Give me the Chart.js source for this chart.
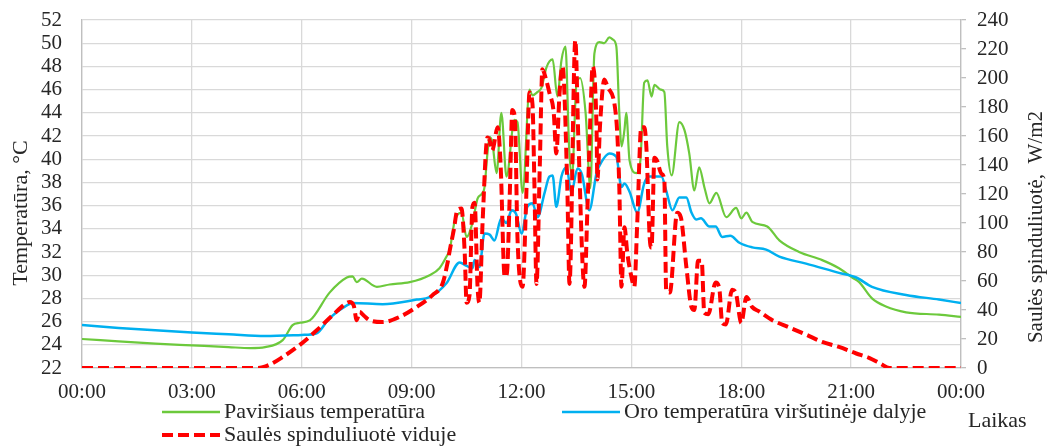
<!DOCTYPE html>
<html>
<head>
<meta charset="utf-8">
<script src="https://cdn.jsdelivr.net/npm/chart.js@4.4.1/dist/chart.umd.min.js"></script>
<style>
    html, body { margin: 0; padding: 0; background: #ffffff; }
    canvas { display: block; }
</style>
</head>
<body>
<canvas id="plot" width="1047" height="448"></canvas>
<script>
// time in hours from midnight
const timeTicks = ['00:00', '03:00', '06:00', '09:00', '12:00', '15:00', '18:00', '21:00', '00:00'];

const surfaceTimes = [0, 1, 2, 3, 4, 4.6, 5.0, 5.48, 5.75, 5.95, 6.22, 6.76, 7.23, 7.39, 7.5, 7.64, 8.05, 8.4, 8.95, 9.49, 9.76, 9.95, 10.04, 10.17, 10.25, 10.36, 10.5, 10.66, 10.8, 10.91, 10.99, 11.07, 11.13, 11.2, 11.32, 11.45, 11.59, 11.81, 11.89, 12.03, 12.22, 12.3, 12.44, 12.55, 12.68, 12.85, 12.98, 13.09, 13.2, 13.3, 13.38, 13.5, 13.6, 13.75, 13.88, 13.99, 14.13, 14.26, 14.4, 14.5, 14.59, 14.67, 14.73, 14.81, 14.86, 14.95, 15.14, 15.25, 15.35, 15.44, 15.55, 15.63, 15.8, 15.9, 15.98, 16.1, 16.31, 16.45, 16.58, 16.72, 16.85, 17.0, 17.13, 17.32, 17.59, 17.86, 18.0, 18.14, 18.3, 18.71, 19.04, 19.58, 20.21, 20.67, 21.03, 21.22, 21.57, 21.95, 22.5, 23.4, 24];
const surfaceTemps = [24.5, 24.3, 24.1, 23.95, 23.8, 23.72, 23.8, 24.4, 25.7, 25.9, 26.1, 28.5, 29.8, 29.9, 29.4, 29.7, 29.0, 29.2, 29.4, 30.0, 30.6, 31.6, 32.2, 34.6, 35.2, 35.4, 33.3, 34.5, 36.6, 37.0, 37.6, 40.5, 41.9, 41.5, 38.8, 44.0, 38.5, 43.4, 43.2, 37.1, 46.0, 45.5, 45.8, 46.2, 47.9, 48.6, 45.4, 48.5, 49.7, 41.0, 38.5, 46.5, 47.0, 44.0, 37.5, 49.1, 50.1, 50.0, 50.5, 50.3, 49.7, 44.0, 41.1, 42.5, 44.0, 39.9, 38.8, 40.0, 46.6, 46.8, 45.4, 46.4, 46.0, 45.8, 41.1, 38.6, 43.2, 42.5, 40.5, 37.3, 39.3, 37.5, 36.2, 37.1, 35.0, 35.8, 34.9, 35.4, 34.6, 34.2, 33.0, 32.0, 31.3, 30.6, 29.8, 29.4, 28.0, 27.3, 26.8, 26.6, 26.4];

const airTimes = [0, 1, 2, 3, 4, 5, 6.0, 6.41, 6.76, 7.23, 7.39, 8.21, 9.14, 9.49, 9.95, 10.31, 10.5, 10.66, 10.72, 10.85, 10.99, 11.13, 11.26, 11.45, 11.59, 11.73, 11.85, 12.0, 12.16, 12.3, 12.44, 12.63, 12.76, 12.85, 12.95, 13.09, 13.23, 13.36, 13.53, 13.65, 13.85, 14.05, 14.21, 14.4, 14.59, 14.73, 14.81, 14.95, 15.16, 15.35, 15.49, 15.82, 15.95, 16.12, 16.31, 16.5, 16.64, 16.77, 16.9, 17.13, 17.3, 17.48, 17.7, 17.95, 18.3, 18.68, 19.04, 19.77, 20.67, 21.14, 21.57, 22.5, 23.4, 24];
const airTemps = [25.7, 25.45, 25.25, 25.05, 24.9, 24.75, 24.85, 25.0, 26.3, 27.4, 27.6, 27.5, 27.9, 28.1, 29.3, 31.1, 30.8, 30.6, 31.3, 30.7, 33.6, 33.5, 33.0, 34.9, 34.5, 35.6, 35.3, 33.6, 35.9, 36.2, 35.0, 37.1, 38.5, 38.6, 35.9, 38.5, 39.3, 37.1, 39.2, 38.7, 35.6, 38.8, 39.9, 40.5, 40.2, 37.6, 37.9, 37.2, 35.4, 37.9, 38.5, 38.5, 37.3, 35.6, 36.7, 36.7, 35.4, 34.8, 34.9, 34.2, 34.2, 33.3, 33.4, 32.8, 32.4, 32.2, 31.6, 31.0, 30.2, 29.8, 29.0, 28.3, 27.9, 27.6];

const solarTimes = [0, 4.8, 5.1, 5.48, 5.95, 6.41, 6.85, 7.23, 7.31, 7.42, 7.5, 7.58, 7.7, 7.85, 8.21, 8.67, 9.14, 9.57, 9.85, 9.98, 10.04, 10.15, 10.25, 10.36, 10.45, 10.5, 10.58, 10.66, 10.72, 10.8, 10.85, 10.94, 11.07, 11.13, 11.2, 11.35, 11.43, 11.54, 11.6, 11.68, 11.75, 11.82, 11.89, 12.03, 12.12, 12.22, 12.3, 12.35, 12.41, 12.5, 12.57, 12.66, 12.76, 12.88, 12.95, 13.04, 13.12, 13.25, 13.31, 13.47, 13.55, 13.72, 13.8, 13.91, 13.94, 14.05, 14.07, 14.15, 14.26, 14.35, 14.59, 14.67, 14.73, 14.81, 14.89, 15.0, 15.08, 15.16, 15.27, 15.35, 15.41, 15.5, 15.55, 15.63, 15.7, 15.82, 15.9, 15.95, 16.05, 16.25, 16.35, 16.5, 16.64, 16.72, 16.82, 16.92, 16.99, 17.1, 17.3, 17.4, 17.48, 17.58, 17.75, 17.85, 18.0, 18.14, 18.3, 18.49, 18.85, 19.31, 19.77, 20.21, 20.67, 21.14, 21.49, 21.8, 22.05, 24];
const solarRad = [0, 0, 2, 7.6, 16, 26, 36.6, 44.8, 45.5, 43, 33, 38.6, 36, 33, 31.7, 35.2, 42.1, 50.3, 58.6, 72.4, 81, 95, 109, 110, 79, 45, 50, 111, 114, 56, 45, 102, 159, 157, 150, 166, 140, 63, 65, 120, 178, 172, 90, 56, 110, 190, 182, 130, 58, 140, 206, 200, 190, 176, 148, 190, 208, 125, 58, 226, 160, 56, 110, 194, 208, 164, 130, 170, 199, 194, 171, 125, 56, 97, 79, 63, 56, 100, 166, 166, 152, 90, 83, 145, 143, 134, 130, 54, 52, 107, 104, 70, 42, 40, 74, 74, 38, 37, 59, 55, 31, 30, 54, 52, 31, 49, 42, 39, 33, 28, 23, 18, 14.5, 10, 7, 3, 0, 0];

const pairs = (xs, ys) => xs.map((x, i) => ({ x: x, y: ys[i] }));

const FONT = 'Liberation Serif, Times New Roman, serif';
const TEXT = '#262626';
const GREEN = '#6cc93c';
const BLUE = '#00b0f0';
const RED = '#ff0000';

// axis titles and legend drawn by hand
const decorations = {
    id: 'decorations',
    afterDraw(chart) {
        const c = chart.ctx;
        c.save();
        c.fillStyle = TEXT;
        c.textBaseline = 'middle';

        c.font = '22px ' + FONT;
        c.save();
        c.translate(21, 213);
        c.rotate(-Math.PI / 2);
        c.textAlign = 'center';
        c.fillText('Temperatūra, °C', 0, 0);
        c.restore();

        c.font = '21px ' + FONT;
        c.save();
        c.translate(1036, 227);
        c.rotate(-Math.PI / 2);
        c.textAlign = 'center';
        c.fillText('Saulės spinduliuotė,  W/m2', 0, 0);
        c.restore();

        c.font = '22px ' + FONT;
        c.textAlign = 'left';
        c.fillText('Laikas', 968, 421);

        const items = [
            { label: 'Paviršiaus temperatūra', color: GREEN, width: 2.5, dash: [], x: 162, y: 412 },
            { label: 'Oro temperatūra viršutinėje dalyje', color: BLUE, width: 2.5, dash: [], x: 562, y: 412 },
            { label: 'Saulės spinduliuotė viduje', color: RED, width: 4, dash: [11, 5], x: 162, y: 435 }
        ];
        items.forEach(it => {
            c.beginPath();
            c.strokeStyle = it.color;
            c.lineWidth = it.width;
            c.setLineDash(it.dash);
            c.moveTo(it.x, it.y);
            c.lineTo(it.x + 58, it.y);
            c.stroke();
            c.setLineDash([]);
            c.fillText(it.label, it.x + 62, it.y);
        });
        c.restore();
    }
};

const noPad = s => {
    s.paddingTop = 0;
    s.paddingBottom = 0;
    s.paddingLeft = 0;
    s.paddingRight = 0;
};

const ctx = document.getElementById('plot').getContext('2d');
const chart = new Chart(ctx, {
    type: 'line',
    data: {
        datasets: [
            {
                label: 'Saulės spinduliuotė viduje',
                data: pairs(solarTimes, solarRad),
                yAxisID: 'y1',
                borderColor: RED,
                borderWidth: 4,
                borderDash: [11, 5],
                order: 0
            },
            {
                label: 'Oro temperatūra viršutinėje dalyje',
                data: pairs(airTimes, airTemps),
                yAxisID: 'y',
                borderColor: BLUE,
                borderWidth: 2.5,
                order: 1
            },
            {
                label: 'Paviršiaus temperatūra',
                data: pairs(surfaceTimes, surfaceTemps),
                yAxisID: 'y',
                borderColor: GREEN,
                borderWidth: 2.2,
                order: 2
            }
        ]
    },
    options: {
        responsive: false,
        animation: false,
        devicePixelRatio: 1,
        elements: {
            point: { radius: 0 },
            line: { cubicInterpolationMode: 'monotone', fill: false }
        },
        layout: { padding: { top: 20, bottom: 50, left: 0, right: 0 } },
        plugins: {
            legend: { display: false },
            tooltip: { enabled: false }
        },
        scales: {
            x: {
                type: 'linear',
                min: 0,
                max: 24,
                afterFit: s => { noPad(s); s.height = 30; },
                afterBuildTicks: s => { s.ticks = timeTicks.map((t, i) => ({ value: i * 3 })); },
                ticks: {
                    callback: (v, i) => timeTicks[i],
                    font: { family: FONT, size: 21 },
                    color: TEXT,
                    padding: 12,
                    maxRotation: 0,
                    autoSkip: false
                },
                grid: { color: '#d9d9d9', lineWidth: 1.3, drawTicks: false },
                border: { color: '#bfbfbf', width: 1.3 }
            },
            y: {
                position: 'left',
                min: 22,
                max: 52,
                afterFit: s => { noPad(s); s.width = 82; },
                ticks: {
                    stepSize: 2,
                    autoSkip: false,
                    font: { family: FONT, size: 21 },
                    color: TEXT,
                    padding: 20
                },
                grid: { color: '#d9d9d9', lineWidth: 1.3, drawTicks: false },
                border: { color: '#bfbfbf', width: 1.3 }
            },
            y1: {
                position: 'right',
                min: 0,
                max: 240,
                afterFit: s => { noPad(s); s.width = 86; },
                ticks: {
                    stepSize: 20,
                    autoSkip: false,
                    font: { family: FONT, size: 21 },
                    color: TEXT,
                    padding: 11
                },
                grid: { drawOnChartArea: false, color: '#bfbfbf', tickLength: 5, lineWidth: 1.3 },
                border: { color: '#bfbfbf', width: 1.3 }
            }
        }
    },
    plugins: [decorations]
});
</script>
</body>
</html>
